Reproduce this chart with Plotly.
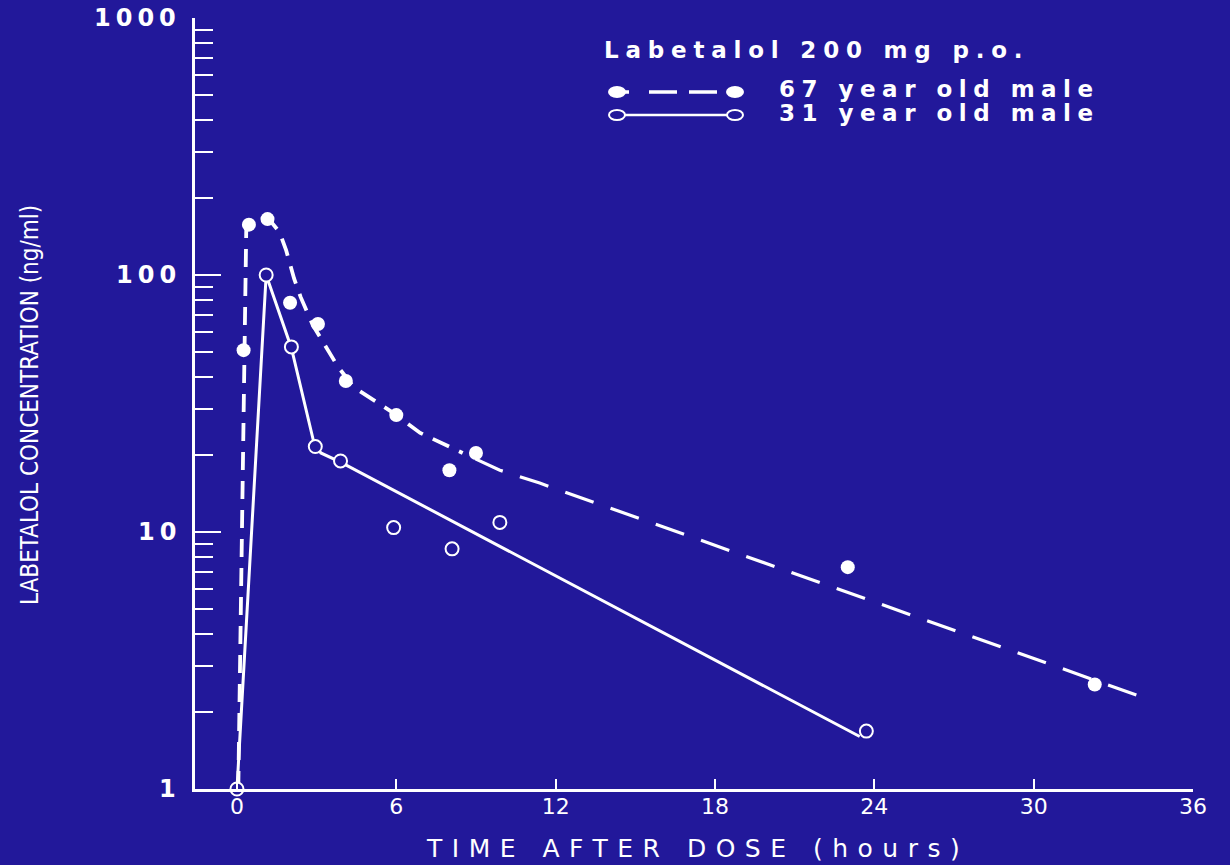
import math
import plotly.graph_objects as go

# Measured plasma levels, labetalol 200 mg p.o.
time_67 = [0.25, 0.45, 1.15, 2.0, 3.05, 4.1, 6.0, 8.0, 9.0, 23.0, 32.3]
conc_67 = [51, 157, 165, 78, 64.5, 38.7, 28.5, 17.4, 20.3, 7.3, 2.55]

time_31 = [0, 1.1, 2.05, 2.95, 3.9, 5.9, 8.1, 9.9, 23.7]
conc_31 = [1, 100, 52.5, 21.5, 18.9, 10.4, 8.6, 10.9, 1.68]

# Hand-fitted concentration curves
curve_time_67 = [0.05, 0.35, 0.5, 1.2, 1.6, 1.85, 2.15, 2.4, 2.85, 3.2, 3.8, 4.4,
                 5.15, 5.9, 6.9, 7.7, 8.5, 9.9, 11.4, 34.4]
curve_conc_67 = [1, 150, 157, 165, 147, 125, 97, 82, 64, 56, 44, 36.6,
                 32.6, 29, 24.3, 22.2, 20.3, 17.4, 15.5, 2.22]

curve_time_31 = [0, 1.1, 2.05, 2.9, 3.16, 3.9, 23.45]
curve_conc_31 = [1, 100, 52, 22.2, 20.3, 18.7, 1.6]

x_ticks = [0, 6, 12, 18, 24, 30, 36]
y_ticks = [1, 10, 100, 1000]
y_tick_text = ["1", "10", "100", "1000"]

title_text = "Labetalol 200 mg p.o."
series_names = ["67 year old male", "31 year old male"]
x_title = "TIME AFTER DOSE (hours)"
y_title = "LABETALOL CONCENTRATION (ng/ml)"

BG = "#22189a"
FG = "white"

W, H = 1230, 865
M_L, M_R, M_T, M_B = 195, 37, 18, 76
PW, PH = W - M_L - M_R, H - M_T - M_B


def px(x):
    return (x - M_L) / PW


def py(y):
    return (H - M_B - y) / PH


def spaced(text, gap):
    return f'<span style="letter-spacing:{gap}px">{text}</span>'


fig = go.Figure()

# The dashed curve uses shorter dashes on the steep early part
split = curve_time_67.index(8.5) + 1
fig.add_trace(go.Scatter(
    x=curve_time_67[:split], y=curve_conc_67[:split], mode="lines",
    line=dict(color=FG, width=3.8, dash="18px,11px"),
    hoverinfo="skip", showlegend=False))
fig.add_trace(go.Scatter(
    x=curve_time_67[split - 1:], y=curve_conc_67[split - 1:], mode="lines",
    line=dict(color=FG, width=3.2, dash="0px,14px,30px,4px"),
    hoverinfo="skip", showlegend=False))
fig.add_trace(go.Scatter(
    x=curve_time_31, y=curve_conc_31, mode="lines",
    line=dict(color=FG, width=3),
    hoverinfo="skip", showlegend=False))
fig.add_trace(go.Scatter(
    x=time_67, y=conc_67, mode="markers", name=series_names[0],
    marker=dict(symbol="circle", size=14, color=FG, line=dict(width=0)),
    showlegend=False))
fig.add_trace(go.Scatter(
    x=time_31, y=conc_31, mode="markers", name=series_names[1],
    marker=dict(symbol="circle", size=13, color=BG, line=dict(color=FG, width=2)),
    cliponaxis=False, showlegend=False))

fig.update_xaxes(
    range=[-1.58, 36], tickmode="array", tickvals=x_ticks,
    ticktext=[str(v) for v in x_ticks],
    ticks="inside", ticklen=10, tickwidth=2, tickcolor=FG,
    showline=True, linecolor=FG, linewidth=2.5,
    showgrid=False, zeroline=False,
    tickfont=dict(family="DejaVu Sans", size=22, color=FG),
    ticklabelstandoff=-4)

minor_vals = [m * 10 ** k for k in range(3) for m in range(2, 10)]
fig.update_yaxes(
    type="log", range=[0, 3], tickmode="array", tickvals=y_ticks,
    showticklabels=False,
    ticks="inside", ticklen=26, tickwidth=2, tickcolor=FG,
    minor=dict(tickmode="array", tickvals=minor_vals, ticks="inside",
               ticklen=18, tickwidth=2, tickcolor=FG, showgrid=False),
    showline=True, linecolor=FG, linewidth=2.5,
    showgrid=False, zeroline=False)

bold_font = dict(family="DejaVu Sans", size=23, color=FG, weight="bold")
annotations = [
    dict(text=spaced(title_text, 6.8), x=px(602), y=py(50), xanchor="left",
         yanchor="middle", font=bold_font),
    dict(text=spaced(series_names[0], 6.5), x=px(777), y=py(89), xanchor="left",
         yanchor="middle", font=bold_font),
    dict(text=spaced(series_names[1], 6.5), x=px(777), y=py(113), xanchor="left",
         yanchor="middle", font=bold_font),
    dict(text=spaced(x_title, 9.5), x=px(697), y=py(848), xanchor="center",
         yanchor="middle", font=dict(family="DejaVu Sans", size=25, color=FG)),
    dict(text=y_title, x=px(30), y=py(405), xanchor="center", yanchor="middle",
         textangle=-90,
         font=dict(family="DejaVu Sans Condensed, Roboto, sans-serif", size=24,
                   color=FG)),
]
for a in annotations:
    a.update(xref="paper", yref="paper", showarrow=False)

# Value labels for the log axis
for v, t in zip(y_ticks, y_tick_text):
    annotations.append(dict(
        text=spaced(t, 5), xref="paper", yref="y", x=px(183),
        y=math.log10(v), xanchor="right", yanchor="middle", showarrow=False,
        font=dict(family="DejaVu Sans", size=24, color=FG, weight="bold")))

# Legend keys drawn as shapes
shapes = [
    dict(type="line", x0=px(617), x1=px(735), y0=py(92), y1=py(92),
         line=dict(color=FG, width=3.5, dash="12px,20px,28px,12px,28px,12px,10px")),
    dict(type="circle", xsizemode="pixel", ysizemode="pixel",
         xanchor=px(617), yanchor=py(92), x0=-9, x1=9, y0=-6, y1=6,
         fillcolor=FG, line=dict(width=0)),
    dict(type="circle", xsizemode="pixel", ysizemode="pixel",
         xanchor=px(735), yanchor=py(92), x0=-9, x1=9, y0=-6, y1=6,
         fillcolor=FG, line=dict(width=0)),
    dict(type="line", x0=px(625), x1=px(727), y0=py(115), y1=py(115),
         line=dict(color=FG, width=2.5)),
    dict(type="circle", xsizemode="pixel", ysizemode="pixel",
         xanchor=px(617), yanchor=py(115), x0=-8, x1=8, y0=-5, y1=5,
         fillcolor=BG, line=dict(color=FG, width=2)),
    dict(type="circle", xsizemode="pixel", ysizemode="pixel",
         xanchor=px(735), yanchor=py(115), x0=-8, x1=8, y0=-5, y1=5,
         fillcolor=BG, line=dict(color=FG, width=2)),
]
for s in shapes:
    s.update(xref="paper", yref="paper")

fig.update_layout(
    width=W, height=H,
    margin=dict(l=M_L, r=M_R, t=M_T, b=M_B, pad=0),
    paper_bgcolor=BG, plot_bgcolor=BG,
    annotations=annotations, shapes=shapes,
    showlegend=False,
)

fig.write_html("out.html")
